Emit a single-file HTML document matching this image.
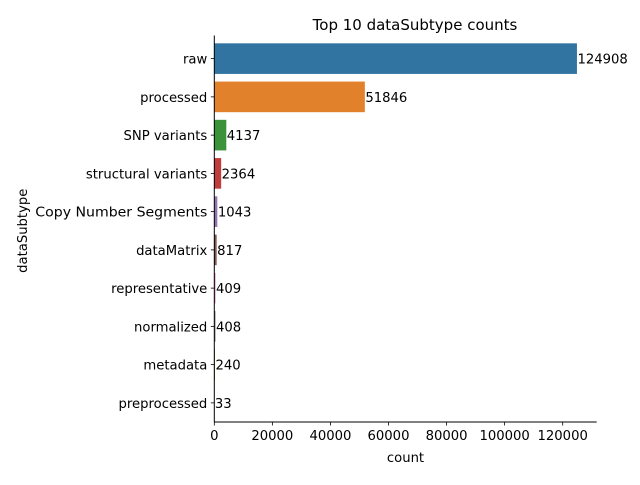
<!DOCTYPE html>
<html><head><style>body{margin:0;background:#fff}svg{font-family:"DejaVu Sans","Liberation Sans",sans-serif}</style></head>
<body>
<svg id="c" width="640" height="480"></svg>
<script>
const categories=["raw","processed","SNP variants","structural variants","Copy Number Segments","dataMatrix","representative","normalized","metadata","preprocessed"];
const counts=[124908,51846,4137,2364,1043,817,409,408,240,33];
const xTicks=[0,20000,40000,60000,80000,100000,120000];
const colors=["#3274a1","#e1812c","#3a923a","#c03d3e","#9372b2","#845b53","#d684bd","#7f7f7f","#a9aa35","#2e9fbb"];
const svg=document.getElementById('c');const NS="http://www.w3.org/2000/svg";
const L=214.3,R=596.7,T=39.5,B=422;
const FS=13.2;
const xs=v=>L+v*(348.4/120000);
const band=(B-T)/categories.length;
const ys=i=>T+band*(i+0.5);
function mk(t,a,txt){const e=document.createElementNS(NS,t);for(const k in a)e.setAttribute(k,a[k]);if(txt!==undefined)e.textContent=txt;svg.appendChild(e);return e;}
categories.forEach((c,i)=>{
 const r=mk('rect',{x:xs(0),y:ys(i)-band*0.4,width:xs(counts[i])-xs(0),height:band*0.8,fill:colors[i]});
 
 
 const v=mk('text',{x:xs(counts[i])+0.5,y:ys(i)+5,'font-size':FS,fill:'#000'},counts[i]);
 
 
 mk('line',{x1:L-3.5,x2:L,y1:ys(i),y2:ys(i),stroke:'#000','stroke-width':0.8});
 const l=mk('text',{x:L-7,y:ys(i)+5,'font-size':FS,'text-anchor':'end','textLength':0},c);
 l.removeAttribute('textLength');
 
 
 if(c==="Copy Number Segments"){l.setAttribute('textLength',172);l.setAttribute('lengthAdjust','spacingAndGlyphs');}
});
xTicks.forEach(t=>{
 mk('line',{x1:xs(t),x2:xs(t),y1:B,y2:B+3.5,stroke:'#000','stroke-width':0.8});
 const e=mk('text',{x:xs(t),y:B+18,'font-size':FS,'text-anchor':'middle'},t);
 
 
});
const ya=mk('line',{x1:L,x2:L,y1:T-4,y2:B,stroke:'#000','stroke-width':1});


const xa=mk('line',{x1:L,x2:R,y1:B,y2:B,stroke:'#000','stroke-width':1});


const xt=mk('text',{x:(L+R)/2,y:462,'font-size':FS,'text-anchor':'middle'},'count');


const yt=mk('text',{x:27,y:(T+B)/2,'font-size':FS,'text-anchor':'middle',transform:`rotate(-90 27 ${(T+B)/2})`},'dataSubtype');


const ti=mk('text',{x:415,y:30,'font-size':15,'text-anchor':'middle'},'Top 10 dataSubtype counts');


</script>
</body></html>
